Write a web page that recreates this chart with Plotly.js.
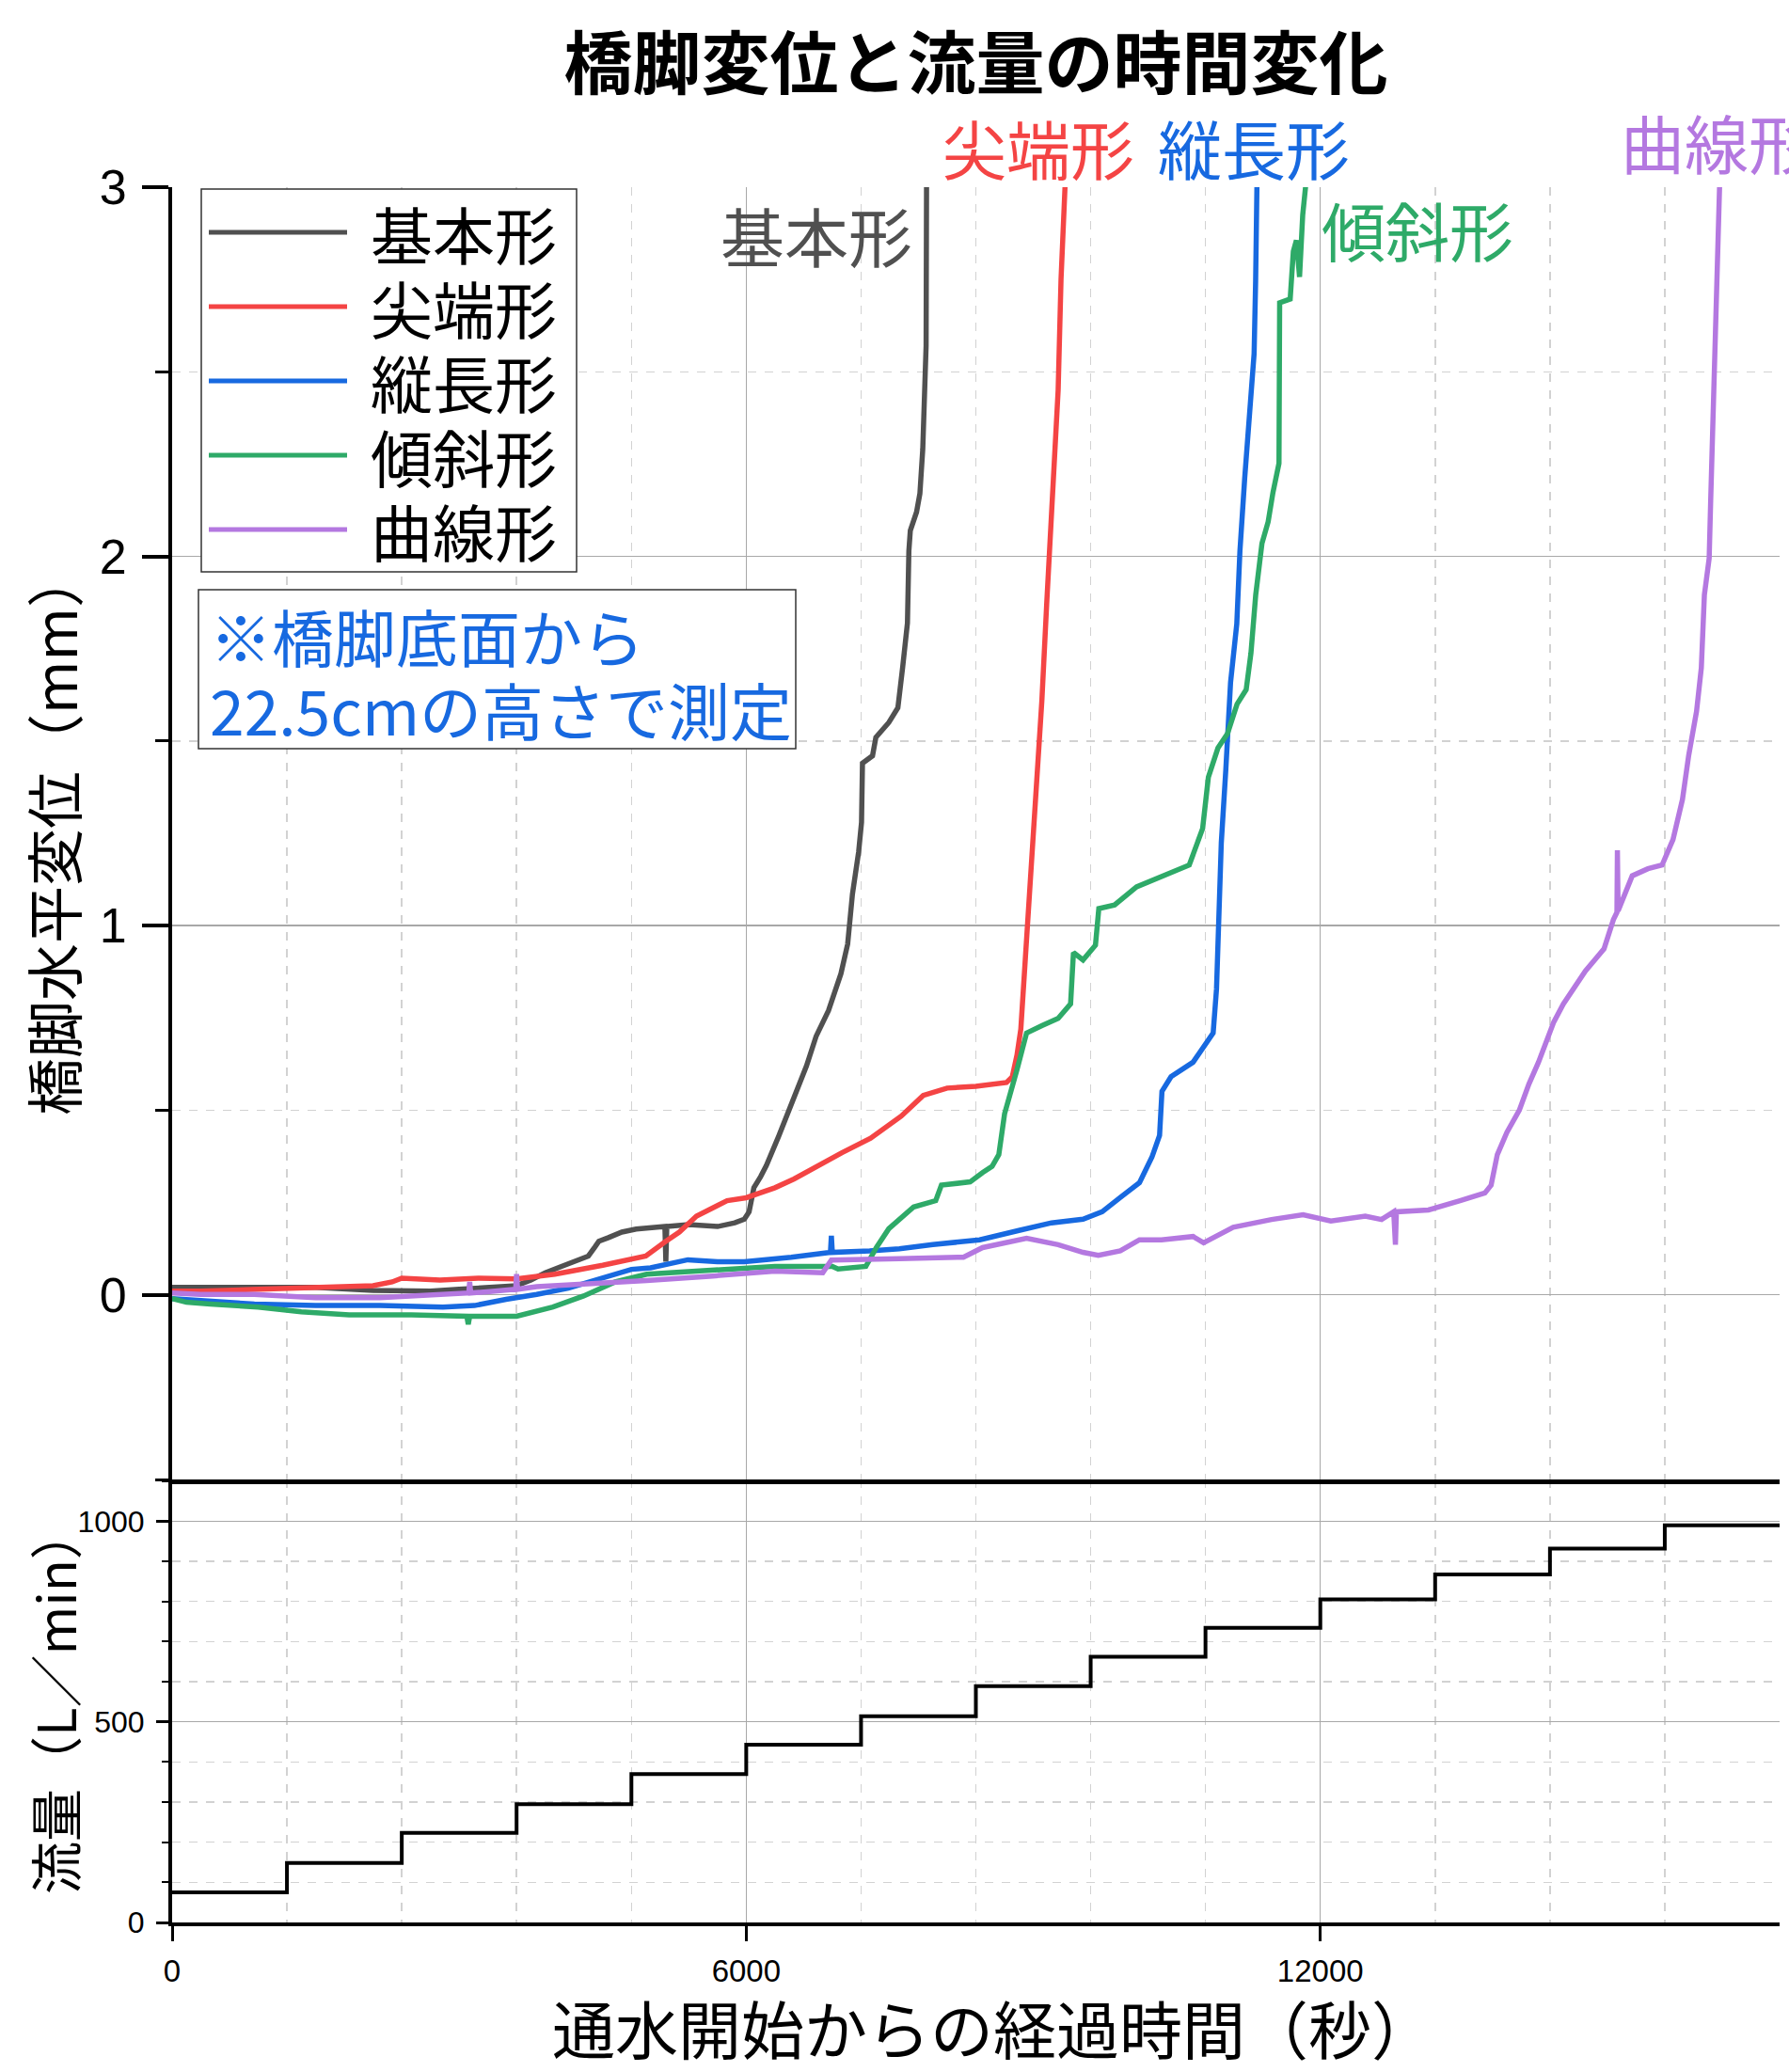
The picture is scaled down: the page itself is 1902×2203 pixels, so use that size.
<!DOCTYPE html>
<html>
<head>
<meta charset="utf-8">
<script src="https://cdn.plot.ly/plotly-3.0.1.min.js"></script>
<style>
  html, body { margin: 0; padding: 0; background: #ffffff; }
  #chart { width: 1902px; height: 2203px; }
</style>
</head>
<body>
<div id="chart"></div>
<script>
// ---------------- data ----------------
const seriesNames  = ['基本形', '尖端形', '縦長形', '傾斜形', '曲線形'];
const seriesColors = ['#505050', '#f44444', '#1769e0', '#2eaa68', '#b478e0'];

// 基本形
const tKihon = [0, 300, 900, 1500, 2100, 2700, 3000, 3300, 3600, 3750, 3900, 4050, 4200, 4350, 4420, 4460, 4560, 4700, 4850, 5000, 5150, 5160, 5170, 5400, 5700, 5880, 5980, 6030, 6080, 6150, 6210, 6340, 6500, 6630, 6730, 6860, 6990, 7060, 7110, 7175, 7205, 7215, 7320, 7355, 7490, 7585, 7635, 7685, 7700, 7715, 7780, 7815, 7845, 7870, 7880, 7885];
const vKihon = [0.02, 0.02, 0.018, 0.02, 0.012, 0.01, 0.015, 0.02, 0.025, 0.04, 0.06, 0.075, 0.09, 0.105, 0.13, 0.145, 0.155, 0.17, 0.178, 0.18, 0.185, 0.09, 0.185, 0.19, 0.185, 0.195, 0.205, 0.225, 0.29, 0.32, 0.35, 0.43, 0.54, 0.62, 0.70, 0.77, 0.87, 0.95, 1.085, 1.2, 1.28, 1.44, 1.46, 1.51, 1.55, 1.59, 1.70, 1.82, 2.015, 2.07, 2.12, 2.17, 2.29, 2.45, 2.57, 3.05];

// 尖端形
const tSentan = [0, 300, 900, 1500, 2100, 2300, 2400, 2800, 3200, 3600, 4000, 4500, 4950, 5160, 5300, 5480, 5650, 5800, 6000, 6300, 6500, 6750, 7000, 7300, 7620, 7850, 8100, 8400, 8600, 8720, 8780, 8830, 8870, 8915, 8960, 9000, 9045, 9090, 9140, 9175, 9225, 9260, 9290, 9340];
const vSentan = [0.01, 0.01, 0.015, 0.02, 0.025, 0.035, 0.045, 0.04, 0.045, 0.043, 0.056, 0.08, 0.105, 0.145, 0.17, 0.213, 0.235, 0.255, 0.263, 0.29, 0.314, 0.35, 0.385, 0.424, 0.484, 0.54, 0.56, 0.565, 0.57, 0.575, 0.59, 0.65, 0.72, 0.90, 1.1, 1.28, 1.43, 1.61, 1.87, 2.05, 2.27, 2.45, 2.75, 3.05];

// 縦長形
const tJucho = [0, 300, 860, 1500, 2170, 2830, 3160, 3490, 3810, 4140, 4470, 4800, 5000, 5390, 5700, 5980, 6470, 6880, 6890, 6900, 7290, 7600, 7950, 8440, 8860, 9190, 9520, 9720, 9910, 10110, 10240, 10320, 10345, 10440, 10670, 10800, 10880, 10915, 10947, 10965, 11012, 11062, 11127, 11160, 11210, 11258, 11308, 11324, 11340];
const vJucho = [-0.01, -0.015, -0.025, -0.029, -0.029, -0.033, -0.029, -0.012, 0.001, 0.018, 0.043, 0.069, 0.073, 0.095, 0.09, 0.09, 0.102, 0.115, 0.16, 0.115, 0.119, 0.125, 0.136, 0.149, 0.175, 0.195, 0.205, 0.225, 0.264, 0.304, 0.373, 0.432, 0.551, 0.591, 0.63, 0.68, 0.709, 0.828, 1.065, 1.224, 1.421, 1.659, 1.817, 2.015, 2.213, 2.391, 2.549, 2.747, 3.05];

// 傾斜形
const tKeisha = [0, 150, 400, 900, 1350, 1850, 2500, 3080, 3095, 3110, 3600, 3980, 4300, 4630, 4960, 5300, 5650, 6000, 6300, 6600, 6900, 6960, 7250, 7360, 7490, 7750, 7980, 8040, 8340, 8470, 8570, 8640, 8700, 8830, 8930, 9090, 9260, 9390, 9420, 9520, 9650, 9685, 9850, 10080, 10340, 10630, 10770, 10830, 10930, 11030, 11130, 11225, 11275, 11325, 11390, 11455, 11505, 11540, 11568, 11575, 11685, 11718, 11750, 11783, 11816, 11865];
const vKeisha = [-0.01, -0.02, -0.025, -0.033, -0.046, -0.054, -0.054, -0.058, -0.08, -0.058, -0.058, -0.033, -0.003, 0.035, 0.056, 0.062, 0.069, 0.072, 0.077, 0.077, 0.077, 0.07, 0.077, 0.128, 0.179, 0.238, 0.255, 0.297, 0.306, 0.331, 0.348, 0.38, 0.49, 0.61, 0.709, 0.729, 0.749, 0.788, 0.927, 0.907, 0.947, 1.046, 1.056, 1.105, 1.134, 1.164, 1.263, 1.402, 1.481, 1.52, 1.6, 1.639, 1.738, 1.896, 2.035, 2.094, 2.173, 2.213, 2.252, 2.687, 2.697, 2.826, 2.856, 2.757, 2.925, 3.05];

// 曲線形
const tKyokusen = [0, 300, 860, 1500, 2170, 2830, 3100, 3110, 3120, 3320, 3590, 3600, 3610, 3810, 4140, 4630, 4960, 5650, 6300, 6800, 6890, 7600, 8270, 8470, 8930, 9260, 9520, 9680, 9910, 10110, 10340, 10670, 10780, 11090, 11490, 11820, 12110, 12470, 12640, 12767, 12785, 12795, 13130, 13460, 13720, 13785, 13850, 13950, 14080, 14180, 14280, 14440, 14540, 14770, 14965, 15063, 15100, 15105, 15112, 15260, 15424, 15572, 15686, 15785, 15850, 15932, 15982, 16014, 16064, 16080, 16113, 16146, 16178];
const vKyokusen = [0.005, 0.001, 0.001, -0.008, -0.008, 0.001, 0.005, 0.035, 0.005, 0.009, 0.015, 0.056, 0.015, 0.022, 0.026, 0.035, 0.039, 0.051, 0.064, 0.06, 0.094, 0.098, 0.102, 0.128, 0.153, 0.136, 0.115, 0.107, 0.119, 0.149, 0.149, 0.158, 0.141, 0.183, 0.204, 0.217, 0.2, 0.213, 0.204, 0.225, 0.136, 0.225, 0.23, 0.255, 0.276, 0.297, 0.38, 0.44, 0.5, 0.571, 0.63, 0.739, 0.788, 0.877, 0.937, 1.016, 1.036, 1.204, 1.04, 1.135, 1.154, 1.164, 1.233, 1.342, 1.461, 1.58, 1.698, 1.896, 1.995, 2.153, 2.45, 2.648, 3.05];

// 流量 (step every 1200 s)
const flowStart = [0, 1200, 2400, 3600, 4800, 6000, 7200, 8400, 9600, 10800, 12000, 13200, 14400, 15600];
const flowRate  = [75, 148, 223, 295, 370, 443, 514, 589, 662, 734, 805, 867, 932, 990];
const flowEnd   = 16800;

// tick labels / texts
const xTickVals = [0, 6000, 12000];
const xTickText = ['0', '6000', '12000'];
const yTopTicks = [0, 1, 2, 3];
const yTopText  = ['0', '1', '2', '3'];
const yBotTicks = [0, 500, 1000];
const yBotText  = ['0', '500', '1000'];
const titleText = '橋脚変位と流量の時間変化';
const xTitle = '通水開始からの経過時間（秒）';
const yTopTitle = '橋脚水平変位（mm）';
const yBotTitle = '流量（L／min）';
const noteLines = ['※橋脚底面から', '22.5cmの高さで測定'];

// ---------------- layout helpers ----------------
const W = 1902, H = 2203;
const M = {l: 183, r: 10, t: 199, b: 159};
const PW = W - M.l - M.r, PH = H - M.t - M.b;
const px2x = px => (px - M.l) / PW;
const py2y = py => (H - M.b - py) / PH;
const split = py2y(1573);

const JP = '"Noto Sans CJK JP", "Noto Sans CJK SC", sans-serif';
const NUM = '"Liberation Sans", Arial, sans-serif';

const seriesT = [tKihon, tSentan, tJucho, tKeisha, tKyokusen];
const seriesV = [vKihon, vSentan, vJucho, vKeisha, vKyokusen];

const traces = seriesNames.map((n, i) => ({
  type: 'scatter', mode: 'lines', name: n,
  x: seriesT[i], y: seriesV[i], xaxis: 'x2', yaxis: 'y',
  line: {color: seriesColors[i], width: 5.5},
  showlegend: false
}));

traces.push({
  type: 'scatter', mode: 'lines', name: '流量',
  x: flowStart.concat([flowEnd]),
  y: flowRate.concat([flowRate[flowRate.length - 1]]),
  xaxis: 'x', yaxis: 'y2',
  line: {color: '#000000', width: 4, shape: 'hv'},
  showlegend: false
});

const gridSolid = '#a8a8a8';
const gridDash = '#d2d2d2';

const xCommon = {
  range: [0, flowEnd], tickmode: 'array', tickvals: xTickVals, ticktext: xTickText,
  showgrid: true, gridcolor: gridSolid, gridwidth: 1.5,
  zeroline: false, automargin: false,
  minor: {dtick: 1200, tick0: 0, showgrid: true, gridcolor: gridDash, gridwidth: 1.5, griddash: 'dash'}
};

// legend + annotations
const shapes = [];
const annotations = [];

// custom legend box
shapes.push({type: 'rect', xref: 'paper', yref: 'paper', layer: 'above',
  x0: px2x(214), x1: px2x(613), y0: py2y(201), y1: py2y(608),
  line: {color: '#333333', width: 1.5}, fillcolor: '#ffffff'});
const legRows = [247, 326, 405, 484, 563];
seriesNames.forEach((n, i) => {
  shapes.push({type: 'line', xref: 'paper', yref: 'paper', layer: 'above',
    x0: px2x(222), x1: px2x(369), y0: py2y(legRows[i]), y1: py2y(legRows[i]),
    line: {color: seriesColors[i], width: 5}});
  annotations.push({xref: 'paper', yref: 'paper', x: px2x(392), y: py2y(legRows[i]),
    xanchor: 'left', yanchor: 'middle', showarrow: false, text: n,
    font: {family: JP, size: 66, color: '#000000'}});
});

// note box
shapes.push({type: 'rect', xref: 'paper', yref: 'paper', layer: 'above',
  x0: px2x(211), x1: px2x(846), y0: py2y(627), y1: py2y(796),
  line: {color: '#333333', width: 1.5}, fillcolor: '#ffffff'});
[675, 753].forEach((py, i) => {
  annotations.push({xref: 'paper', yref: 'paper', x: px2x(221), y: py2y(py),
    xanchor: 'left', yanchor: 'middle', showarrow: false, text: noteLines[i],
    font: {family: JP, size: 66, color: '#1769e0'}});
});

// series labels near the curves' ends
const labelPos = [
  {px: 868, py: 250, anchor: 'center'},
  {px: 1104, py: 156, anchor: 'center'},
  {px: 1333, py: 156, anchor: 'center'},
  {px: 1507, py: 243, anchor: 'center'},
  {px: 1721, py: 150, anchor: 'left'}
];
seriesNames.forEach((n, i) => {
  annotations.push({xref: 'paper', yref: 'paper', x: px2x(labelPos[i].px), y: py2y(labelPos[i].py),
    xanchor: labelPos[i].anchor, yanchor: 'middle', showarrow: false, text: n,
    font: {family: JP, size: 68, color: seriesColors[i]}});
});

// axis titles
annotations.push({xref: 'paper', yref: 'paper', x: px2x(56), y: py2y(886),
  xanchor: 'center', yanchor: 'middle', showarrow: false, textangle: -90,
  text: yTopTitle, font: {family: JP, size: 61, color: '#000000'}});
annotations.push({xref: 'paper', yref: 'paper', x: px2x(56), y: py2y(1808),
  xanchor: 'center', yanchor: 'middle', showarrow: false, textangle: -90,
  text: yBotTitle, font: {family: JP, size: 56, color: '#000000'}});
annotations.push({xref: 'paper', yref: 'paper', x: px2x(1056), y: py2y(2154),
  xanchor: 'center', yanchor: 'middle', showarrow: false,
  text: xTitle, font: {family: JP, size: 67, color: '#000000'}});

const layout = {
  width: W, height: H,
  margin: M,
  paper_bgcolor: '#ffffff', plot_bgcolor: '#ffffff',
  showlegend: false,
  title: {text: titleText, x: 0.5, xref: 'paper', xanchor: 'center',
          y: 1 - 68 / H, yref: 'container', yanchor: 'middle',
          font: {family: JP, size: 73, weight: 'bold', color: '#000000'}},
  xaxis: Object.assign({}, xCommon, {
    anchor: 'y2', domain: [0, 1],
    showline: true, linecolor: '#000000', linewidth: 3.5,
    ticks: 'outside', ticklen: 16, tickwidth: 3, tickcolor: '#000000',
    ticklabelstandoff: 4,
    tickfont: {family: NUM, size: 33, color: '#000000'}
  }),
  xaxis2: Object.assign({}, xCommon, {
    anchor: 'y', matches: 'x', domain: [0, 1],
    showticklabels: false, ticks: '',
    showline: true, linecolor: '#000000', linewidth: 4.5
  }),
  yaxis: {
    anchor: 'x2', domain: [split, 1], range: [-0.5, 3],
    tickmode: 'array', tickvals: yTopTicks, ticktext: yTopText,
    showgrid: true, gridcolor: gridSolid, gridwidth: 1.5, zeroline: false,
    showline: true, linecolor: '#000000', linewidth: 4,
    ticks: 'outside', ticklen: 28, tickwidth: 4, tickcolor: '#000000',
    ticklabelstandoff: 6,
    tickfont: {family: NUM, size: 52, color: '#000000'},
    automargin: false,
    minor: {dtick: 0.5, tick0: 0, ticks: 'outside', ticklen: 14, tickwidth: 3, tickcolor: '#000000',
            showgrid: true, gridcolor: gridDash, gridwidth: 1.5, griddash: 'dash'}
  },
  yaxis2: {
    anchor: 'x', domain: [0, split], range: [0, 1104],
    tickmode: 'array', tickvals: yBotTicks, ticktext: yBotText,
    showgrid: true, gridcolor: gridSolid, gridwidth: 1.5, zeroline: false,
    showline: true, linecolor: '#000000', linewidth: 4,
    ticks: 'outside', ticklen: 13, tickwidth: 3, tickcolor: '#000000',
    ticklabelstandoff: 6,
    tickfont: {family: NUM, size: 32, color: '#000000'},
    automargin: false,
    minor: {dtick: 100, tick0: 0, ticks: 'outside', ticklen: 7, tickwidth: 2, tickcolor: '#000000',
            showgrid: true, gridcolor: gridDash, gridwidth: 1.5, griddash: 'dash'}
  },
  shapes: shapes,
  annotations: annotations
};

Plotly.newPlot('chart', traces, layout, {displayModeBar: false, responsive: false, staticPlot: true});
</script>
</body>
</html>
